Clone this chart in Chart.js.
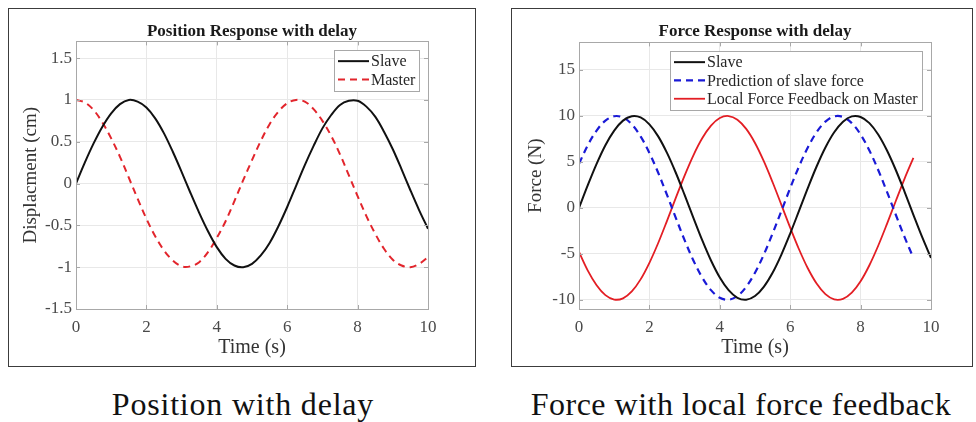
<!DOCTYPE html>
<html>
<head>
<meta charset="utf-8">
<script src="https://cdn.jsdelivr.net/npm/chart.js@4.4.1/dist/chart.umd.min.js"></script>
<style>
    html, body { margin: 0; padding: 0; background: #fff; }
    body { width: 976px; height: 422px; position: relative; overflow: hidden; }
    .panel { position: absolute; border: 1.5px solid #3c3c3c; box-sizing: border-box; background: #fff; }
    .panel canvas { position: absolute; left: 0; top: 0; }
    .caption { position: absolute; top: 386px; height: 36px; line-height: 36px; text-align: center;
        font-family: "Liberation Serif", "Times New Roman", serif; font-size: 32px; color: #111;
        letter-spacing: 0.8px; white-space: nowrap; }
</style>
</head>
<body>
<div class="panel" style="left:8px; top:8px; width:468px; height:359px;">
    <canvas id="posicao" width="465" height="356"></canvas>
</div>
<div class="panel" style="left:511px; top:8px; width:462px; height:359px;">
    <canvas id="forca" width="459" height="356"></canvas>
</div>
<div class="caption" style="left:93px; width:300px;">Position with delay</div>
<div class="caption" style="left:521px; width:440px; letter-spacing:0.5px;">Force with local force feedback</div>

<script>
// tempo (s), passo de 0.25
const times = [0, 0.25, 0.5, 0.75, 1, 1.25, 1.5, 1.75, 2, 2.25, 2.5, 2.75, 3, 3.25, 3.5, 3.75,
    4, 4.25, 4.5, 4.75, 5, 5.25, 5.5, 5.75, 6, 6.25, 6.5, 6.75, 7, 7.25, 7.5, 7.75,
    8, 8.25, 8.5, 8.75, 9, 9.25, 9.5, 9.75, 10];

// Position Response with delay (cm)
const positionSlave = [0, 0.25, 0.48, 0.68, 0.84, 0.95, 1.0, 0.98, 0.91, 0.78, 0.6, 0.38, 0.14, -0.11, -0.35, -0.57,
    -0.76, -0.9, -0.98, -1.0, -0.96, -0.86, -0.71, -0.51, -0.28, -0.03, 0.22, 0.45, 0.66, 0.82, 0.94, 0.99,
    0.99, 0.92, 0.8, 0.62, 0.41, 0.17, -0.08, -0.32, -0.54];
const positionMaster = [1.0, 0.97, 0.88, 0.73, 0.54, 0.32, 0.07, -0.18, -0.42, -0.63, -0.8, -0.92, -0.99, -0.99, -0.94, -0.82,
    -0.65, -0.45, -0.21, 0.04, 0.28, 0.51, 0.71, 0.86, 0.96, 1.0, 0.98, 0.89, 0.75, 0.57, 0.35, 0.1,
    -0.15, -0.39, -0.6, -0.78, -0.91, -0.98, -1.0, -0.96, -0.88];

// Force Response with delay (N)
const forceSlave = [0, 2.47, 4.79, 6.82, 8.41, 9.49, 9.97, 9.84, 9.09, 7.78, 5.98, 3.82, 1.41, -1.08, -3.51, -5.72,
    -7.57, -8.95, -9.78, -9.99, -9.59, -8.59, -7.06, -5.08, -2.79, -0.33, 2.15, 4.5, 6.57, 8.23, 9.38, 9.95,
    9.89, 9.22, 7.98, 6.24, 4.12, 1.74, -0.75, -3.19, -5.44];
// estes dois terminam em t = 9.5
const forcePrediction = [4.79, 6.82, 8.41, 9.49, 9.97, 9.84, 9.09, 7.78, 5.98, 3.82, 1.41, -1.08, -3.51, -5.72, -7.57, -8.95,
    -9.78, -9.99, -9.59, -8.59, -7.06, -5.08, -2.79, -0.33, 2.15, 4.5, 6.57, 8.23, 9.38, 9.95, 9.89, 9.22,
    7.98, 6.24, 4.12, 1.74, -0.75, -3.19, -5.44];
const forceLocal = [-4.79, -6.82, -8.41, -9.49, -9.97, -9.84, -9.09, -7.78, -5.98, -3.82, -1.41, 1.08, 3.51, 5.72, 7.57, 8.95,
    9.78, 9.99, 9.59, 8.59, 7.06, 5.08, 2.79, 0.33, -2.15, -4.5, -6.57, -8.23, -9.38, -9.95, -9.89, -9.22,
    -7.98, -6.24, -4.12, -1.74, 0.75, 3.19, 5.44];

// ticks
const timeTicks = [0, 2, 4, 6, 8, 10];
const positionTicks = [-1.5, -1, -0.5, 0, 0.5, 1, 1.5];
const forceTicks = [-10, -5, 0, 5, 10, 15];

const serif = '"Liberation Serif", "Times New Roman", serif';

function pontos(valores) {
    return valores.map((v, i) => ({ x: times[i], y: v }));
}

// moldura do eixo + legenda dentro da area do grafico (estilo MATLAB)
const molduraLegenda = {
    id: 'molduraLegenda',
    afterDatasetsDraw(chart) {
        const { ctx, chartArea } = chart;
        const xs = chart.scales.x;
        const ys = chart.scales.y;
        ctx.save();
        ctx.strokeStyle = '#a8a8a8';
        ctx.lineWidth = 1;
        ctx.strokeRect(Math.round(chartArea.left) + 0.5, Math.round(chartArea.top) + 0.5,
            Math.round(chartArea.right - chartArea.left), Math.round(chartArea.bottom - chartArea.top));
        // marcas internas
        ctx.beginPath();
        xs.ticks.forEach(t => {
            const px = Math.round(xs.getPixelForValue(t.value)) + 0.5;
            ctx.moveTo(px, chartArea.bottom); ctx.lineTo(px, chartArea.bottom - 4);
            ctx.moveTo(px, chartArea.top); ctx.lineTo(px, chartArea.top + 4);
        });
        ys.ticks.forEach(t => {
            const py = Math.round(ys.getPixelForValue(t.value)) + 0.5;
            ctx.moveTo(chartArea.left, py); ctx.lineTo(chartArea.left + 4, py);
            ctx.moveTo(chartArea.right, py); ctx.lineTo(chartArea.right - 4, py);
        });
        ctx.stroke();

        const sets = chart.data.datasets;
        ctx.font = '16px ' + serif;
        const rowH = 18.3;
        const lineLen = 31;
        const textW = Math.max(...sets.map(d => ctx.measureText(d.label).width));
        const w = Math.round(4 + lineLen + 2 + textW + 4);
        const h = Math.round(2 + rowH * sets.length + 2);
        const x = Math.round(chartArea.right - 9 - w);
        const y = Math.round(chartArea.top + 9);
        ctx.fillStyle = '#fff';
        ctx.fillRect(x, y, w, h);
        ctx.strokeStyle = '#a8a8a8';
        ctx.strokeRect(x + 0.5, y + 0.5, w, h);
        sets.forEach((d, i) => {
            const cy = y + 2 + rowH * (i + 0.5);
            ctx.strokeStyle = d.borderColor;
            ctx.lineWidth = d.borderWidth;
            ctx.setLineDash(d.borderDash || []);
            ctx.beginPath();
            ctx.moveTo(x + 4, cy);
            ctx.lineTo(x + 4 + lineLen, cy);
            ctx.stroke();
            ctx.setLineDash([]);
            ctx.fillStyle = '#262626';
            ctx.textBaseline = 'middle';
            ctx.fillText(d.label, x + 4 + lineLen + 2, cy + 1);
        });
        ctx.restore();
    }
};

function opcoes(titulo, rotuloY, yMin, yMax, yTicks, yTitlePad, rightPad, titleBottom) {
    return {
        responsive: false,
        animation: false,
        layout: { padding: { left: 0, right: rightPad, top: 0, bottom: 0 } },
        plugins: {
            legend: { display: false },
            tooltip: { enabled: false },
            title: {
                display: true,
                text: titulo,
                fullSize: false,
                color: '#1a1a1a',
                font: { family: serif, size: 17, weight: 'bold' },
                padding: { top: 12, bottom: titleBottom }
            }
        },
        scales: {
            x: {
                type: 'linear',
                min: 0,
                max: 10,
                afterBuildTicks: axis => { axis.ticks = timeTicks.map(v => ({ value: v })); },
                afterFit: s => { s.height = 56; },
                grid: { color: '#e8e8e8', drawTicks: false },
                border: { display: false },
                ticks: { color: '#4a4a4a', font: { family: serif, size: 17 }, padding: 8, maxRotation: 0,
                    callback: v => String(v) },
                title: {
                    display: true,
                    text: 'Time (s)',
                    color: '#333',
                    font: { family: serif, size: 20 },
                    padding: { top: 0, bottom: 5 }
                }
            },
            y: {
                min: yMin,
                max: yMax,
                afterBuildTicks: axis => { axis.ticks = yTicks.map(v => ({ value: v })); },
                afterFit: s => { s.width = 67; },
                grid: { color: '#e8e8e8', drawTicks: false },
                border: { display: false },
                ticks: { color: '#4a4a4a', font: { family: serif, size: 17 }, padding: 4,
                    callback: v => String(v) },
                title: {
                    display: true,
                    text: rotuloY,
                    color: '#333',
                    font: { family: serif, size: 19 },
                    padding: { top: yTitlePad, bottom: 0 }
                }
            }
        }
    };
}

document.addEventListener("DOMContentLoaded", () => {
    new Chart(document.getElementById("posicao"), {
        type: "line",
        data: {
            datasets: [
                {
                    label: "Slave",
                    data: pontos(positionSlave),
                    borderColor: "#111111",
                    borderWidth: 2,
                    pointRadius: 0,
                    tension: 0.35
                },
                {
                    label: "Master",
                    data: pontos(positionMaster),
                    borderColor: "#e2252c",
                    borderWidth: 2,
                    borderDash: [7, 5],
                    pointRadius: 0,
                    tension: 0.35
                }
            ]
        },
        options: opcoes('Position Response with delay', 'Displacment (cm)', -1.5, 1.7, positionTicks, 11, 46, 0),
        plugins: [molduraLegenda]
    });

    new Chart(document.getElementById("forca"), {
        type: "line",
        data: {
            datasets: [
                {
                    label: "Slave",
                    data: pontos(forceSlave),
                    borderColor: "#111111",
                    borderWidth: 2,
                    pointRadius: 0,
                    tension: 0.35
                },
                {
                    label: "Prediction of slave force",
                    data: pontos(forcePrediction),
                    borderColor: "#1a1ad6",
                    borderWidth: 2.2,
                    borderDash: [7, 5],
                    pointRadius: 0,
                    tension: 0.35
                },
                {
                    label: "Local Force Feedback on Master",
                    data: pontos(forceLocal),
                    borderColor: "#e31e24",
                    borderWidth: 1.8,
                    pointRadius: 0,
                    tension: 0.35
                }
            ]
        },
        options: opcoes('Force Response with delay', 'Force (N)', -11, 18, forceTicks, 13, 40, 1),
        plugins: [molduraLegenda]
    });
});
</script>
</body>
</html>
